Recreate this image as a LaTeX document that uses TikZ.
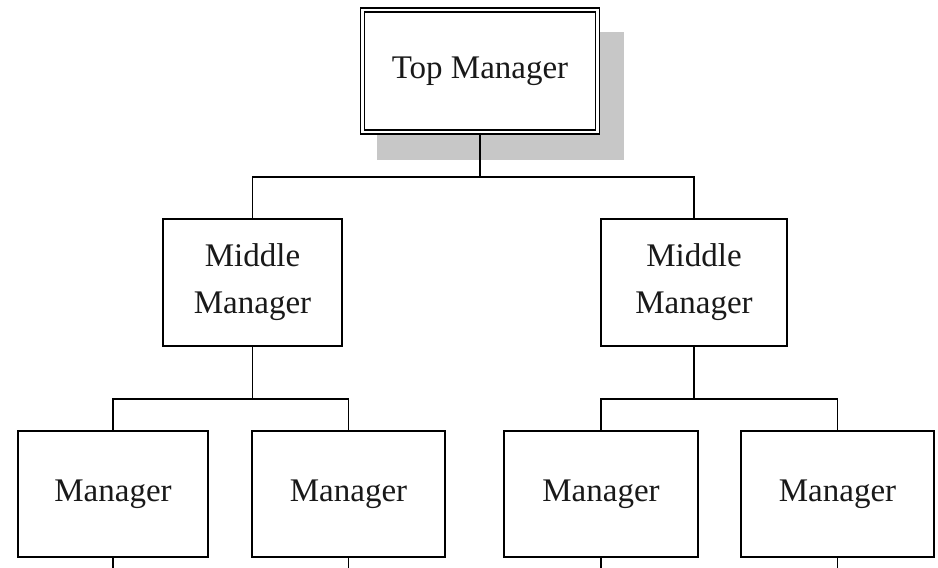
\documentclass[tikz,border=0pt]{standalone}
\usepackage{fontspec}
\setmainfont{Liberation Serif}
\begin{document}
\begin{tikzpicture}[x=1pt,y=-1pt,
  box/.style={draw=black, fill=white, line width=1.6pt, rectangle, inner sep=0pt,
    font=\fontsize{33}{47}\selectfont, align=center, text=black!90},
  topbox/.style={box, double=white, double distance=2.6pt, line width=1.5pt},
  link/.style={draw=black, line width=1.6pt}]
\useasboundingbox (0,0) rectangle (938,568);
\fill[white] (0,0) rectangle (938,568);

% shadow behind the top box
\fill[black!22] (377,32) rectangle (624,160);

% boxes
\node[topbox, minimum width=235pt, minimum height=122pt] (top) at (480,71) {Top Manager};
\node[box, minimum width=179pt, minimum height=127pt] (ml) at (252.5,282.5) {Middle\\Manager};
\node[box, minimum width=186pt, minimum height=127pt] (mr) at (694,282.5) {Middle\\Manager};
\node[box, minimum width=190pt, minimum height=126pt] (b1) at (113,494) {Manager};
\node[box, minimum width=193pt, minimum height=126pt] (b2) at (348.5,494) {Manager};
\node[box, minimum width=194pt, minimum height=126pt] (b3) at (601,494) {Manager};
\node[box, minimum width=193pt, minimum height=126pt] (b4) at (837.5,494) {\raisebox{5pt}{Manager}};

% rails of the tree
\coordinate (h0) at (0,177);
\coordinate (h1) at (0,399);
\coordinate (bot) at (0,568);

% top to middle level
\draw[link] (top.south) -- (top.south |- h0);
\draw[link] (ml.north) -- (ml.north |- h0) -- (mr.north |- h0) -- (mr.north);

% middle to bottom level, left group
\draw[link] (ml.south) -- (ml.south |- h1);
\draw[link] (b1.north) -- (b1.north |- h1) -- (b2.north |- h1) -- (b2.north);

% middle to bottom level, right group
\draw[link] (mr.south) -- (mr.south |- h1);
\draw[link] (b3.north) -- (b3.north |- h1) -- (b4.north |- h1) -- (b4.north);

% lines continuing below the bottom level
\draw[link] (b1.south) -- (b1.south |- bot);
\draw[link] (b2.south) -- (b2.south |- bot);
\draw[link] (b3.south) -- (b3.south |- bot);
\draw[link] (b4.south) -- (b4.south |- bot);
\end{tikzpicture}
\end{document}
